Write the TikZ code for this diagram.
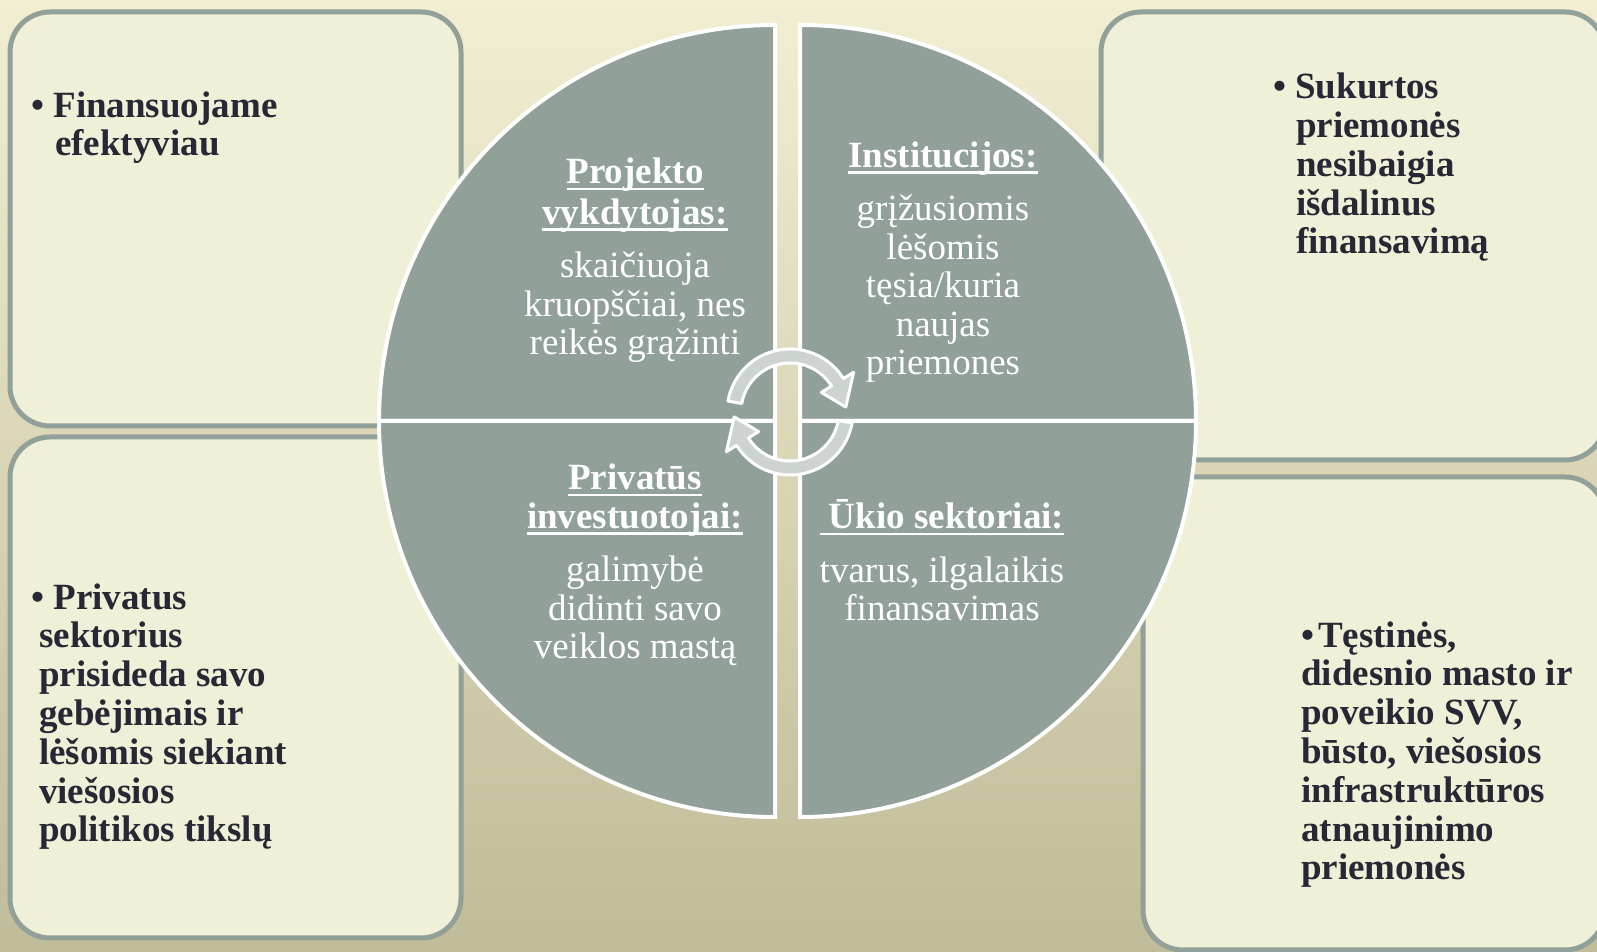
\documentclass[tikz,border=0pt]{standalone}
\usepackage{fontspec}
\setmainfont{Liberation Serif}
\usepackage{tikz}
\usetikzlibrary{calc}

\definecolor{bgtop}{HTML}{F1EED2}
\definecolor{bgbot}{HTML}{C0BB98}
\definecolor{sage}{HTML}{91A098}
\definecolor{boxfill}{HTML}{F0EFD7}
\definecolor{ink}{HTML}{272735}
\definecolor{arrowfill}{HTML}{CDD3CF}

\newsavebox{\ulbox}
\newcommand{\uln}[1]{\sbox{\ulbox}{#1}\rlap{\rule[-6.5pt]{\wd\ulbox}{2.5pt}}\usebox{\ulbox}}

\begin{document}
\begin{tikzpicture}[x=1pt,y=1pt,
  box/.style={draw=sage,line width=5pt,fill=boxfill,rounded corners=40pt},
  quarter/.style={fill=sage,draw=white,line width=4pt},
  cycarrow/.style={fill=arrowfill,draw=white,line width=3pt,line join=round},
  boxtext/.style={anchor=base west,align=left,text=ink,inner sep=0pt,
    font=\fontsize{37}{38.8}\selectfont\bfseries},
  quartext/.style={anchor=base,align=center,text=white,inner sep=0pt,
    font=\fontsize{37}{38.5}\selectfont}]
\clip (0,0) rectangle (1597,952);
\shade[top color=bgtop,bottom color=bgbot] (0,0) rectangle (1597,952);

\coordinate (L) at (775,531);
\coordinate (R) at (800,531);
\coordinate (C) at (790,540);

% side boxes
\draw[box] (10,526) rectangle (461,940);
\draw[box] (10,14) rectangle (461,515);
\draw[box] (1101,492) rectangle (1605,940);
\draw[box] (1143,2) rectangle (1605,475);

% circle in four quarters
\draw[quarter] (L) -- +(180:396) arc[start angle=180,end angle=90,radius=396] -- cycle;
\draw[quarter] (L) -- +(270:396) arc[start angle=270,end angle=180,radius=396] -- cycle;
\draw[quarter] (R) -- +(90:396) arc[start angle=90,end angle=0,radius=396] -- cycle;
\draw[quarter] (R) -- +(0:396) arc[start angle=0,end angle=-90,radius=396] -- cycle;

% (base = baseline of the last line)
\node[quartext] (proj) at (635,597) {\textbf{\uln{Projekto}}\\[2pt]\textbf{\uln{vykdytojas:}}\\[15pt]
  skaičiuoja\\kruopščiai, nes\\reikės grąžinti};
\node[quartext] (inst) at (943,577) {\textbf{\uln{Institucijos:}}\\[15pt]
  grįžusiomis\\lėšomis\\tęsia/kuria\\naujas\\priemones};
\node[quartext] (inv) at (635,293) {\textbf{\uln{Privatūs}}\\\textbf{\uln{investuotojai:}}\\[15pt]
  galimybė\\didinti savo\\veiklos mastą};
\node[quartext] (ukio) at (942,331) {\textbf{\uln{\ Ūkio sektoriai:}}\\[15pt]
  tvarus, ilgalaikis\\finansavimas};

% turning arrows in the middle
\draw[cycarrow] ($(C)+(170:63)$) arc[start angle=170,end angle=32,radius=63]
  -- ($(C)+(32:75)$) -- ($(C)+(5:56)$) -- ($(C)+(32:37)$) -- ($(C)+(32:49)$)
  arc[start angle=32,end angle=170,radius=49] -- cycle;
\draw[cycarrow] ($(C)+(-10:63)$) arc[start angle=-10,end angle=-148,radius=63]
  -- ($(C)+(212:75)$) -- ($(C)+(185:56)$) -- ($(C)+(212:37)$) -- ($(C)+(212:49)$)
  arc[start angle=212,end angle=350,radius=49] -- cycle;

% box texts
\node[boxtext] (fin) at (31,796) {• Finansuojame\\\hspace*{24pt}efektyviau};
\node[boxtext] (suk) at (1273,698) {• Sukurtos\\\hspace*{23pt}priemonės\\\hspace*{23pt}nesibaigia\\
  \hspace*{23pt}išdalinus\\\hspace*{23pt}finansavimą};
\node[boxtext] (sekt) at (31,110) {• Privatus\\\hspace*{8pt}sektorius\\\hspace*{8pt}prisideda savo\\
  \hspace*{8pt}gebėjimais ir\\\hspace*{8pt}lėšomis siekiant\\\hspace*{8pt}viešosios\\
  \hspace*{8pt}politikos tikslų};
\node[boxtext] (test) at (1301,72) {•\hspace{4pt}Tęstinės,\\didesnio masto ir\\poveikio SVV,\\
  būsto, viešosios\\infrastruktūros\\atnaujinimo\\priemonės};
\end{tikzpicture}
\end{document}
